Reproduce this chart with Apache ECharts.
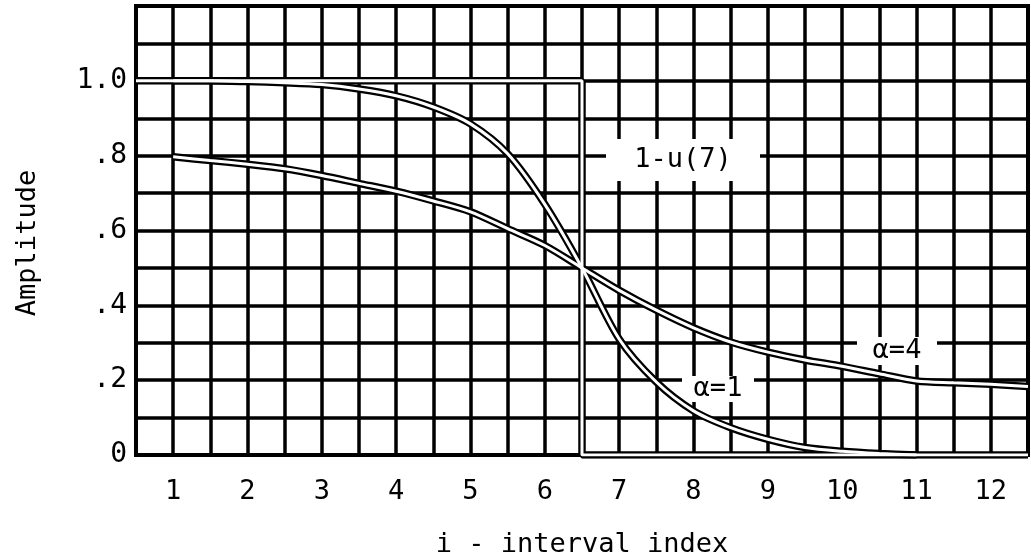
<!DOCTYPE html>
<html>
<head>
<meta charset="utf-8">
<script src="https://cdn.jsdelivr.net/npm/echarts@6/dist/echarts.min.js"></script>
<style>
  html, body { margin: 0; background: #fff; }
  #chart { width: 1031px; height: 558px; }
</style>
</head>
<body>
<div id="chart"></div>
<script>
// tick labels
const xTickLabels = ['1', '2', '3', '4', '5', '6', '7', '8', '9', '10', '11', '12'];
const yTickLabels = ['0', '.2', '.4', '.6', '.8', '1.0'];

// 1 - u(7): ideal step
const stepX = [0.5, 6.5, 6.5, 12.5];
const stepY = [1, 1, 0, 0];

// alpha = 1 (steep)
const alpha1X = [1, 1.5, 2, 2.5, 3, 3.5, 4, 4.5, 5, 5.5, 6, 6.5, 7, 7.5, 8, 8.5, 9, 9.5, 10, 10.5, 11];
const alpha1Y = [1.0, 1.0, 0.998, 0.995, 0.99, 0.978, 0.96, 0.93, 0.885, 0.805, 0.67, 0.5, 0.31, 0.195, 0.118, 0.073, 0.042, 0.02, 0.01, 0.004, 0];

// alpha = 4 (shallow)
const alpha4X = [1, 1.5, 2, 2.5, 3, 3.5, 4, 4.5, 5, 5.5, 6, 6.5, 7, 7.5, 8, 8.5, 9, 9.5, 10, 10.5, 11, 11.5, 12, 12.5];
const alpha4Y = [0.797, 0.787, 0.777, 0.765, 0.747, 0.726, 0.705, 0.679, 0.65, 0.605, 0.56, 0.5, 0.44, 0.387, 0.34, 0.302, 0.275, 0.254, 0.237, 0.217, 0.198, 0.193, 0.189, 0.183];

const FONT = "'DejaVu Sans Mono', monospace";

const chart = echarts.init(document.getElementById('chart'));

const pairs = (xs, ys) => xs.map((x, i) => [x, ys[i]]);

// each curve: black band with a white core, like the traced originals
function band(name, data, smooth) {
  return [
    {
      name: name, type: 'line', data: data, smooth: smooth, showSymbol: false, z: 3,
      lineStyle: { color: '#000', width: 7.5 }, silent: true,
    },
    {
      name: name, type: 'line', data: data, smooth: smooth, showSymbol: false, z: 4,
      lineStyle: { color: '#fff', width: 3 }, silent: true,
    },
  ];
}

function boxLabel(text, cx, cy, w, h) {
  return [
    { type: 'rect', z: 1, shape: { x: cx - w / 2, y: cy - h / 2, width: w, height: h }, style: { fill: '#fff' } },
    {
      type: 'text', z: 5, x: cx, y: cy,
      style: { text: text, fill: '#000', font: '27px ' + FONT, align: 'center', verticalAlign: 'middle' },
    },
  ];
}

const option = {
  backgroundColor: '#fff',
  animation: false,
  grid: {
    left: 136, right: 3, top: 6, bottom: 103,
    show: true, borderColor: '#000', borderWidth: 4,
    outerBoundsMode: 'none',
  },
  xAxis: {
    type: 'value', min: 0.5, max: 12.5, interval: 0.5,
    axisLine: { show: false },
    axisTick: { show: false },
    splitLine: { show: true, lineStyle: { color: '#000', width: 3.5 } },
    axisLabel: {
      margin: 23, color: '#000', fontSize: 27, fontFamily: FONT,
      formatter: (v) => (Number.isInteger(v) ? xTickLabels[v - 1] || '' : ''),
    },
    name: 'i - interval index',
    nameLocation: 'middle', nameGap: 76,
    nameTextStyle: { color: '#000', fontSize: 27, fontFamily: FONT },
  },
  yAxis: {
    type: 'value', min: 0, max: 1.2, interval: 0.1,
    axisLine: { show: false },
    axisTick: { show: false },
    splitLine: { show: true, lineStyle: { color: '#000', width: 3.5 } },
    axisLabel: {
      margin: 9, color: '#000', fontSize: 28, fontFamily: FONT,
      formatter: (v) => {
        const k = Math.round(v * 10);
        return k % 2 === 0 ? yTickLabels[k / 2] || '' : '';
      },
    },
  },
  graphic: [
    {
      type: 'text', z: 5, x: 28, y: 243, rotation: Math.PI / 2,
      style: { text: 'Amplitude', fill: '#000', font: '27px ' + FONT, align: 'center', verticalAlign: 'middle' },
    },
    ...boxLabel('1-u(7)', 683, 160, 154, 42),
    ...boxLabel('α=4', 897, 351, 80, 28),
    ...boxLabel('α=1', 718, 389, 72, 26),
  ],
  series: [
    ...band('1-u(7)', pairs(stepX, stepY), false),
    ...band('α=1', pairs(alpha1X, alpha1Y), 0.3),
    ...band('α=4', pairs(alpha4X, alpha4Y), 0.3),
  ],
};

chart.setOption(option);
</script>
</body>
</html>
